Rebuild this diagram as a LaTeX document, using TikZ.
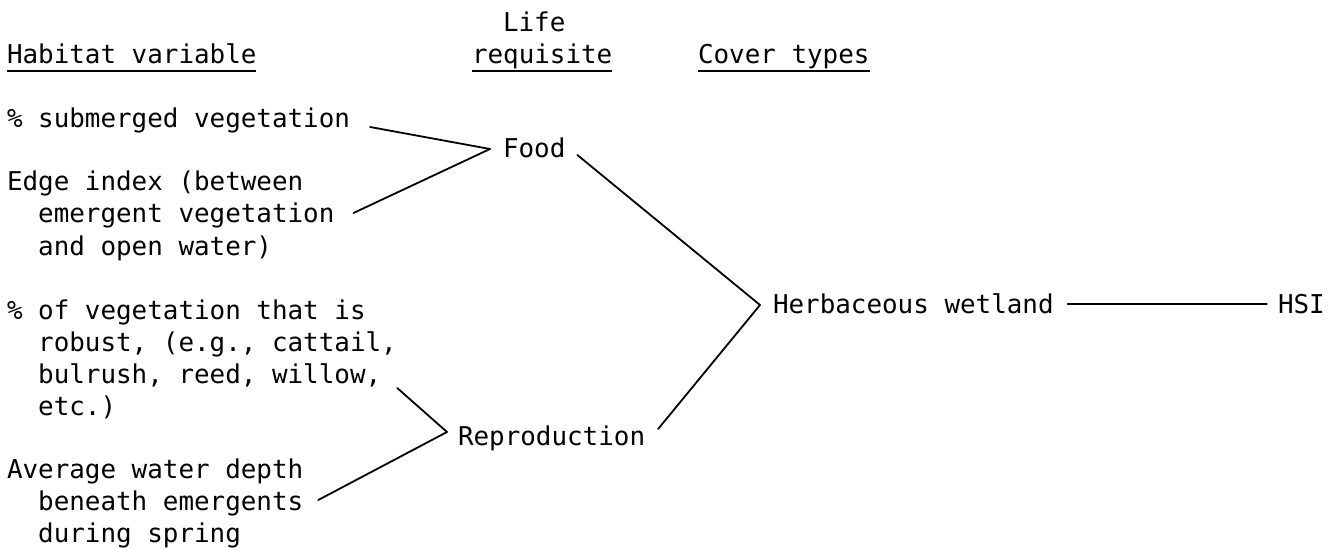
\documentclass[tikz,border=0pt]{standalone}
\usepackage{fontspec}
\setmonofont{DejaVu Sans Mono}
\begin{document}
\begin{tikzpicture}[x=1pt,y=-1pt,
  txt/.style={anchor=base west, inner sep=0pt, outer sep=0pt, font=\ttfamily\fontsize{25.9}{32}\selectfont},
  con/.style={line width=1.8pt, line cap=round, line join=miter},
  uline/.style={line width=1.4pt}]
\useasboundingbox (0,0) rectangle (1339,548);
% headers
\node[txt] (life) at (503,32) {Life};
\node[txt] (req) at (472,64) {requisite};
\node[txt] (hab) at (7,64) {Habitat variable};
\node[txt] (cov) at (698,64) {Cover types};
\foreach \n in {req,hab,cov}
  \draw[uline] ([yshift=-7]\n.base west) -- ([yshift=-7]\n.base east);
% habitat variables
\node[txt] (sub) at (7,128) {\% submerged vegetation};
\node[txt] (edge1) at (7,191) {Edge index (between};
\node[txt] (edge2) at (7,223) {\ \ emergent vegetation};
\node[txt] (edge3) at (7,255) {\ \ and open water)};
\node[txt] (rob1) at (7,319) {\% of vegetation that is};
\node[txt] (rob2) at (7,351) {\ \ robust, (e.g., cattail,};
\node[txt] (rob3) at (7,383) {\ \ bulrush, reed, willow,};
\node[txt] (rob4) at (7,415) {\ \ etc.)};
\node[txt] (dep1) at (7,478) {Average water depth};
\node[txt] (dep2) at (7,510) {\ \ beneath emergents};
\node[txt] (dep3) at (7,542) {\ \ during spring};
% life requisites
\node[txt] (food) at (503,158) {Food};
\node[txt] (repro) at (458,445) {Reproduction};
% cover type and HSI
\node[txt] (herb) at (773,313) {Herbaceous wetland};
\node[txt] (hsi) at (1278,313) {HSI};
% vertices
\coordinate (fv) at ([xshift=-13,yshift=9]food.base west);
\coordinate (rv) at ([xshift=-11,yshift=13]repro.base west);
\coordinate (hv) at ([xshift=-13,yshift=8]herb.base west);
% connectors
\draw[con] ([xshift=20,yshift=1]sub.base east) -- (fv);
\draw[con] ([xshift=19,yshift=10]edge2.base east) -- (fv);
\draw[con] ([xshift=16,yshift=-5]rob3.base east) -- (rv);
\draw[con] ([xshift=15,yshift=10]dep2.base east) -- (rv);
\draw[con] ([xshift=12,yshift=3]food.base east) -- (hv);
\draw[con] ([xshift=13,yshift=16]repro.base east) -- (hv);
\draw[con] ([xshift=14,yshift=9]herb.base east) -- ([xshift=-11,yshift=9]hsi.base west);
\end{tikzpicture}
\end{document}
